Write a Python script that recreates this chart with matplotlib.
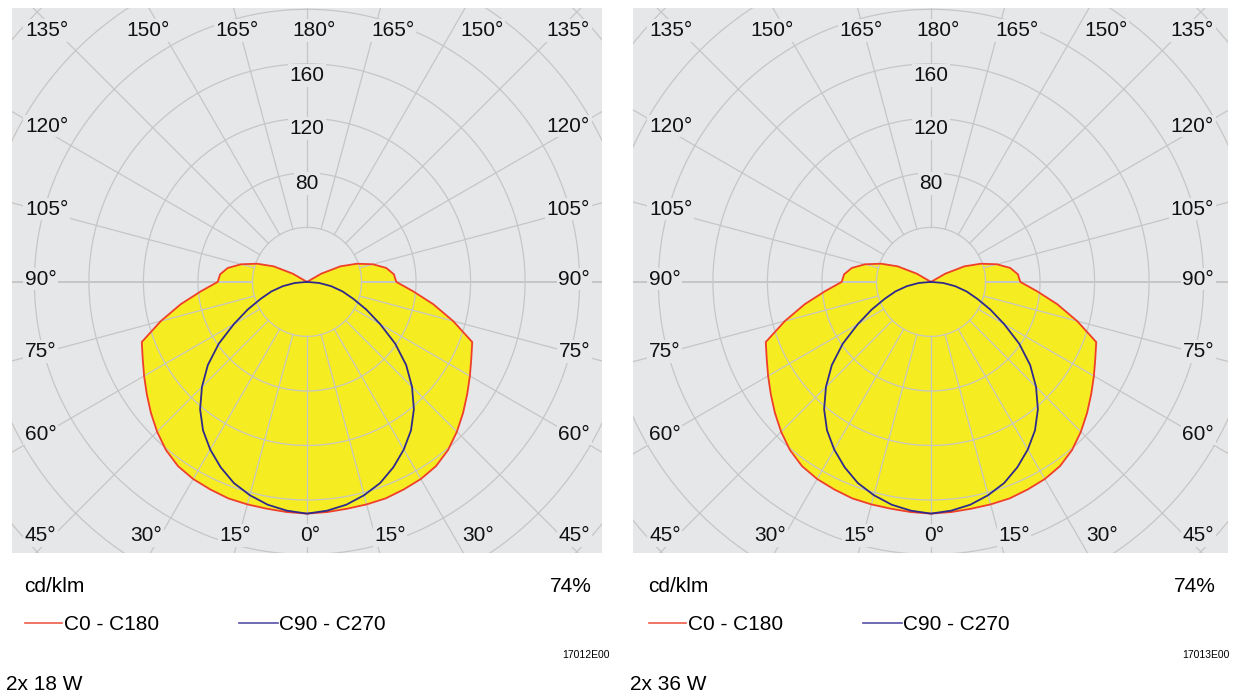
import numpy as np
import matplotlib
matplotlib.use("Agg")
import matplotlib.pyplot as plt
from matplotlib.lines import Line2D

plt.rcParams['font.family'] = ['Liberation Sans', 'DejaVu Sans']

# gamma angles (0 = straight down), intensities in cd/klm
gamma = [0, 5, 10, 15, 20, 25, 30, 35, 40, 45, 50, 55, 60, 65, 70, 75, 80, 85, 90,
         95, 100, 105, 110, 115, 120, 125, 130, 135, 140, 145, 150, 155, 160, 165, 170, 175, 180]
c0_c180 = [170, 169.5, 169, 169, 169, 168, 167, 165, 161, 155.5, 149.5, 143.5, 138, 133, 129, 111, 94, 78, 65.5,
           64, 59, 50, 39, 27, 12, 0, 0, 0, 0, 0, 0, 0, 0, 0, 0, 0, 0]
c90_c270 = [170, 168.5, 166, 162, 157, 150, 142, 133, 122, 109, 95, 79, 62, 48, 36, 27, 18, 9, 0,
            0, 0, 0, 0, 0, 0, 0, 0, 0, 0, 0, 0, 0, 0, 0, 0, 0, 0]

ring_values = [40, 80, 120, 160, 200, 240, 280, 320]
ring_labels = [80, 120, 160]
panels = [("2x 18 W", "17012E00", "74%"), ("2x 36 W", "17013E00", "74%")]

BG = '#e6e7e9'
GRID = '#c6c6c6'
YELLOW = '#f6ec22'
RED = '#ef3e2a'
BLUE = '#2f2a8c'

W, H = 1236, 698
fig = plt.figure(figsize=(W / 100, H / 100), dpi=100)
fig.patch.set_facecolor('white')

scale = 1.363  # px per cd/klm


def fx(px):
    return px / W


def fy(py):
    return 1 - py / H


def curve_xy(vals):
    g = np.radians(gamma)
    v = np.array(vals, dtype=float)
    xr, yr = v * np.sin(g), -v * np.cos(g)
    x = np.concatenate([xr[::-1], -xr[1:]])
    y = np.concatenate([yr[::-1], yr[1:]])
    return x, y


for i, (title, code, eff) in enumerate(panels):
    off = i * 624
    left, top, right, bottom = 12 + off - i * 3, 7.5, 602 + off + i * 2, 553
    cx, cy = 307 + off, 281.9
    ax = fig.add_axes([fx(left), fy(bottom), fx(right - left), (bottom - top) / H])
    ax.set_xlim((left - cx) / scale, (right - cx) / scale)
    ax.set_ylim(-(bottom - cy) / scale, (cy - top) / scale)
    ax.set_facecolor(BG)
    ax.set_xticks([])
    ax.set_yticks([])
    for s in ax.spines.values():
        s.set_visible(False)

    # curves
    x, y = curve_xy(c0_c180)
    ax.fill(x, y, color=YELLOW, zorder=1, lw=0)
    ax.plot(x, y, color=RED, lw=1.3, zorder=3)
    x, y = curve_xy(c90_c270)
    ax.plot(x, y, color=BLUE, lw=1.3, zorder=3)

    # grid
    t = np.linspace(0, 2 * np.pi, 400)
    for r in ring_values:
        ax.plot(r * np.cos(t), r * np.sin(t), color=GRID, lw=0.9, zorder=2)
    for a in range(0, 360, 15):
        ar = np.radians(a)
        lw = 1.4 if a in (90, 270) else 0.9
        ax.plot([40 * np.sin(ar), 400 * np.sin(ar)], [-40 * np.cos(ar), -400 * np.cos(ar)],
                color=GRID, lw=lw, zorder=2)

    box = dict(boxstyle='square,pad=0.08', fc=BG, ec='none')
    tkw = dict(fontsize=15, color='#111111', va='baseline', zorder=5, bbox=box)
    xl, xr_ = (25 + off - cx) / scale, (590 + off - cx) / scale
    # side labels (baseline y in cd/klm units)
    side = [(135, 180.4), (120, 110.2), (105, 49.3), (90, -2.1), (75, -55.1), (60, -115.8), (45, -190.1)]
    for lab, yy in side:
        ax.text(xl, yy, f"{lab}°", ha='left', **tkw)
        ax.text(xr_, yy, f"{lab}°", ha='right', **tkw)
    top_row = [(150, -116.7), (165, -51), (180, 5.1), (165, 63.1), (150, 128.4)]
    for lab, xx in top_row:
        ax.text(xx, 180.4, f"{lab}°", ha='center', **tkw)
    bot_row = [(30, -118), (15, -52.8), (0, 2.2), (15, 60.9), (30, 125.5)]
    for lab, xx in bot_row:
        ax.text(xx, -190.1, f"{lab}°", ha='center', **tkw)
    for r, yy in zip(ring_labels, [68.2, 108.5, 147.4]):
        ax.text(0, yy, str(r), ha='center', **tkw)

    # texts below
    fig.text(fx(24 + off), fy(591.5), "cd/klm", fontsize=15, va='baseline', ha='left')
    fig.text(fx(592 + off), fy(591.5), eff, fontsize=15, va='baseline', ha='right')
    fig.add_artist(Line2D([fx(25 + off), fx(62 + off)], [fy(623.3), fy(623.3)], color='#ee5c48', lw=1.2))
    fig.text(fx(64 + off), fy(630), "C0 - C180", fontsize=15, va='baseline', ha='left')
    fig.add_artist(Line2D([fx(239 + off), fx(278 + off)], [fy(623.3), fy(623.3)], color='#5650a6', lw=1.2))
    fig.text(fx(279 + off), fy(630), "C90 - C270", fontsize=15, va='baseline', ha='left')
    fig.text(fx(610 + off - i * 4), fy(655), code, fontsize=7.5, va='center', ha='right')
    fig.text(fx(6 + off), fy(690), title, fontsize=15, va='baseline', ha='left')

fig.savefig("out.png", dpi=100, facecolor='white')
